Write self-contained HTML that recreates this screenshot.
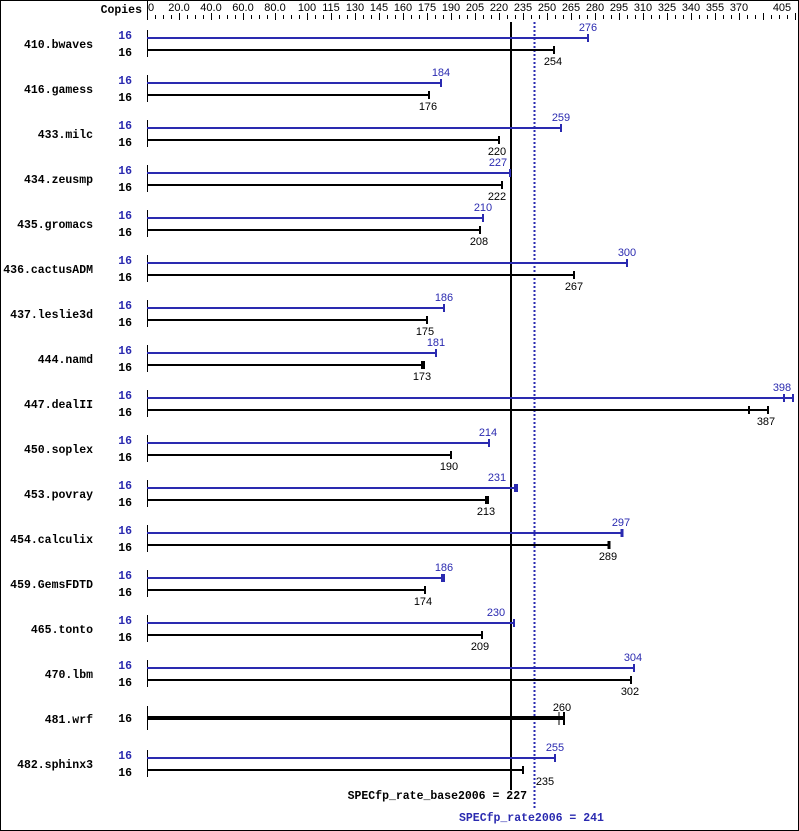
<!DOCTYPE html>
<html><head><meta charset="utf-8"><style>
html,body{margin:0;padding:0;background:#fff}
svg{display:block}
.n{font-family:"Liberation Mono",monospace;font-weight:bold;font-size:11.5px}
.v{font-family:"Liberation Sans",sans-serif;font-size:11px}
</style></head><body>
<svg width="799" height="831" xmlns="http://www.w3.org/2000/svg">
<defs>
<pattern id="tk" x="147" y="0" width="8" height="30" patternUnits="userSpaceOnUse">
<rect x="0" y="15" width="1" height="4" fill="#000"/>
</pattern>
</defs>
<rect x="0.5" y="0.5" width="798" height="830" fill="#fff" stroke="#000"/>
<rect x="147" y="0" width="650" height="30" fill="url(#tk)"/>
<line x1="147.5" y1="0" x2="147.5" y2="20" stroke="#000"/>
<g stroke="#000" stroke-width="1">
<line x1="179.5" y1="13" x2="179.5" y2="20"/><line x1="211.5" y1="13" x2="211.5" y2="20"/>
<line x1="243.5" y1="13" x2="243.5" y2="20"/><line x1="275.5" y1="13" x2="275.5" y2="20"/>
<line x1="307.5" y1="13" x2="307.5" y2="20"/><line x1="331.5" y1="13" x2="331.5" y2="20"/>
<line x1="355.5" y1="13" x2="355.5" y2="20"/><line x1="379.5" y1="13" x2="379.5" y2="20"/>
<line x1="403.5" y1="13" x2="403.5" y2="20"/><line x1="427.5" y1="13" x2="427.5" y2="20"/>
<line x1="451.5" y1="13" x2="451.5" y2="20"/><line x1="475.5" y1="13" x2="475.5" y2="20"/>
<line x1="499.5" y1="13" x2="499.5" y2="20"/><line x1="523.5" y1="13" x2="523.5" y2="20"/>
<line x1="547.5" y1="13" x2="547.5" y2="20"/><line x1="571.5" y1="13" x2="571.5" y2="20"/>
<line x1="595.5" y1="13" x2="595.5" y2="20"/><line x1="619.5" y1="13" x2="619.5" y2="20"/>
<line x1="643.5" y1="13" x2="643.5" y2="20"/><line x1="667.5" y1="13" x2="667.5" y2="20"/>
<line x1="691.5" y1="13" x2="691.5" y2="20"/><line x1="715.5" y1="13" x2="715.5" y2="20"/>
<line x1="739.5" y1="13" x2="739.5" y2="20"/><line x1="763.5" y1="13" x2="763.5" y2="20"/>
<line x1="795.5" y1="13" x2="795.5" y2="20"/>
</g>
<text class="n" x="142" y="13" text-anchor="end">Copies</text>
<g class="v" text-anchor="middle">
<text x="151" y="11">0</text><text x="179" y="11">20.0</text><text x="211" y="11">40.0</text>
<text x="243" y="11">60.0</text><text x="275" y="11">80.0</text><text x="307" y="11">100</text>
<text x="331" y="11">115</text><text x="355" y="11">130</text><text x="379" y="11">145</text>
<text x="403" y="11">160</text><text x="427" y="11">175</text><text x="451" y="11">190</text>
<text x="475" y="11">205</text><text x="499" y="11">220</text><text x="523" y="11">235</text>
<text x="547" y="11">250</text><text x="571" y="11">265</text><text x="595" y="11">280</text>
<text x="619" y="11">295</text><text x="643" y="11">310</text><text x="667" y="11">325</text>
<text x="691" y="11">340</text><text x="715" y="11">355</text><text x="739" y="11">370</text>
<text x="782" y="11">405</text>
</g>

<line x1="511" y1="22" x2="511" y2="790" stroke="#000" stroke-width="2"/>
<line x1="534.5" y1="22" x2="534.5" y2="808" stroke="#2a2ab0" stroke-width="2" stroke-dasharray="2,2"/>

<g id="rows">
<!-- row helper: y0 blue bar; black y0+12 -->
</g>
<g stroke-width="2">
<!-- 0 bwaves y0=38 -->
<line x1="147.5" y1="30" x2="147.5" y2="57" stroke="#000" stroke-width="1"/>
<line x1="147" y1="38" x2="588" y2="38" stroke="#2a2ab0"/><line x1="588" y1="34" x2="588" y2="42" stroke="#2a2ab0"/>
<line x1="147" y1="50" x2="554" y2="50" stroke="#000"/><line x1="554" y1="46" x2="554" y2="54" stroke="#000"/>
<!-- 1 gamess 83 -->
<line x1="147.5" y1="75" x2="147.5" y2="102" stroke="#000" stroke-width="1"/>
<line x1="147" y1="83" x2="441" y2="83" stroke="#2a2ab0"/><line x1="441" y1="79" x2="441" y2="87" stroke="#2a2ab0"/>
<line x1="147" y1="95" x2="429" y2="95" stroke="#000"/><line x1="429" y1="91" x2="429" y2="99" stroke="#000"/>
<!-- 2 milc 128 -->
<line x1="147.5" y1="120" x2="147.5" y2="147" stroke="#000" stroke-width="1"/>
<line x1="147" y1="128" x2="561" y2="128" stroke="#2a2ab0"/><line x1="561" y1="124" x2="561" y2="132" stroke="#2a2ab0"/>
<line x1="147" y1="140" x2="499" y2="140" stroke="#000"/><line x1="499" y1="136" x2="499" y2="144" stroke="#000"/>
<!-- 3 zeusmp 173 -->
<line x1="147.5" y1="165" x2="147.5" y2="192" stroke="#000" stroke-width="1"/>
<line x1="147" y1="173" x2="510" y2="173" stroke="#2a2ab0"/><line x1="510" y1="169" x2="510" y2="177" stroke="#2a2ab0"/>
<line x1="147" y1="185" x2="502" y2="185" stroke="#000"/><line x1="502" y1="181" x2="502" y2="189" stroke="#000"/>
<!-- 4 gromacs 218 -->
<line x1="147.5" y1="210" x2="147.5" y2="237" stroke="#000" stroke-width="1"/>
<line x1="147" y1="218" x2="483" y2="218" stroke="#2a2ab0"/><line x1="483" y1="214" x2="483" y2="222" stroke="#2a2ab0"/>
<line x1="147" y1="230" x2="480" y2="230" stroke="#000"/><line x1="480" y1="226" x2="480" y2="234" stroke="#000"/>
<!-- 5 cactus 263 -->
<line x1="147.5" y1="255" x2="147.5" y2="282" stroke="#000" stroke-width="1"/>
<line x1="147" y1="263" x2="627" y2="263" stroke="#2a2ab0"/><line x1="627" y1="259" x2="627" y2="267" stroke="#2a2ab0"/>
<line x1="147" y1="275" x2="574" y2="275" stroke="#000"/><line x1="574" y1="271" x2="574" y2="279" stroke="#000"/>
<!-- 6 leslie 308 -->
<line x1="147.5" y1="300" x2="147.5" y2="327" stroke="#000" stroke-width="1"/>
<line x1="147" y1="308" x2="444" y2="308" stroke="#2a2ab0"/><line x1="444" y1="304" x2="444" y2="312" stroke="#2a2ab0"/>
<line x1="147" y1="320" x2="427" y2="320" stroke="#000"/><line x1="427" y1="316" x2="427" y2="324" stroke="#000"/>
<!-- 7 namd 353 -->
<line x1="147.5" y1="345" x2="147.5" y2="372" stroke="#000" stroke-width="1"/>
<line x1="147" y1="353" x2="436" y2="353" stroke="#2a2ab0"/><line x1="436" y1="349" x2="436" y2="357" stroke="#2a2ab0"/>
<line x1="147" y1="365" x2="424" y2="365" stroke="#000"/><line x1="424" y1="361" x2="424" y2="369" stroke="#000"/><line x1="422" y1="361" x2="422" y2="369" stroke="#000"/>
<!-- 8 dealII 398 -->
<line x1="147.5" y1="390" x2="147.5" y2="417" stroke="#000" stroke-width="1"/>
<line x1="147" y1="398" x2="793" y2="398" stroke="#2a2ab0"/><line x1="793" y1="394" x2="793" y2="402" stroke="#2a2ab0"/><line x1="784" y1="394" x2="784" y2="402" stroke="#2a2ab0"/>
<line x1="147" y1="410" x2="768" y2="410" stroke="#000"/><line x1="768" y1="406" x2="768" y2="414" stroke="#000"/><line x1="749" y1="406" x2="749" y2="414" stroke="#000"/>
<!-- 9 soplex 443 -->
<line x1="147.5" y1="435" x2="147.5" y2="462" stroke="#000" stroke-width="1"/>
<line x1="147" y1="443" x2="489" y2="443" stroke="#2a2ab0"/><line x1="489" y1="439" x2="489" y2="447" stroke="#2a2ab0"/>
<line x1="147" y1="455" x2="451" y2="455" stroke="#000"/><line x1="451" y1="451" x2="451" y2="459" stroke="#000"/>
<!-- 10 povray 488 -->
<line x1="147.5" y1="480" x2="147.5" y2="507" stroke="#000" stroke-width="1"/>
<line x1="147" y1="488" x2="517" y2="488" stroke="#2a2ab0"/><line x1="517" y1="484" x2="517" y2="492" stroke="#2a2ab0"/><line x1="515" y1="484" x2="515" y2="492" stroke="#2a2ab0"/>
<line x1="147" y1="500" x2="488" y2="500" stroke="#000"/><line x1="488" y1="496" x2="488" y2="504" stroke="#000"/><line x1="486" y1="496" x2="486" y2="504" stroke="#000"/>
<!-- 11 calculix 533 -->
<line x1="147.5" y1="525" x2="147.5" y2="552" stroke="#000" stroke-width="1"/>
<line x1="147" y1="533" x2="622" y2="533" stroke="#2a2ab0"/><line x1="622" y1="529" x2="622" y2="537" stroke="#2a2ab0" stroke-width="3"/>
<line x1="147" y1="545" x2="609" y2="545" stroke="#000"/><line x1="609" y1="541" x2="609" y2="549" stroke="#000" stroke-width="3"/>
<!-- 12 Gems 578 -->
<line x1="147.5" y1="570" x2="147.5" y2="597" stroke="#000" stroke-width="1"/>
<line x1="147" y1="578" x2="444" y2="578" stroke="#2a2ab0"/><line x1="444" y1="574" x2="444" y2="582" stroke="#2a2ab0"/><line x1="442" y1="574" x2="442" y2="582" stroke="#2a2ab0"/>
<line x1="147" y1="590" x2="425" y2="590" stroke="#000"/><line x1="425" y1="586" x2="425" y2="594" stroke="#000"/>
<!-- 13 tonto 623 -->
<line x1="147.5" y1="615" x2="147.5" y2="642" stroke="#000" stroke-width="1"/>
<line x1="147" y1="623" x2="514" y2="623" stroke="#2a2ab0"/><line x1="514" y1="619" x2="514" y2="627" stroke="#2a2ab0"/>
<line x1="147" y1="635" x2="482" y2="635" stroke="#000"/><line x1="482" y1="631" x2="482" y2="639" stroke="#000"/>
<!-- 14 lbm 668 -->
<line x1="147.5" y1="660" x2="147.5" y2="687" stroke="#000" stroke-width="1"/>
<line x1="147" y1="668" x2="634" y2="668" stroke="#2a2ab0"/><line x1="634" y1="664" x2="634" y2="672" stroke="#2a2ab0"/>
<line x1="147" y1="680" x2="631" y2="680" stroke="#000"/><line x1="631" y1="676" x2="631" y2="684" stroke="#000"/>
<!-- 15 wrf 718 -->
<line x1="147.5" y1="706" x2="147.5" y2="730" stroke="#000" stroke-width="1"/>
<line x1="147" y1="718" x2="564" y2="718" stroke="#000" stroke-width="4"/><line x1="564" y1="712" x2="564" y2="725" stroke="#000"/><line x1="559" y1="712" x2="559" y2="725" stroke="#000" stroke-width="1"/>
<!-- 16 sphinx 758 -->
<line x1="147.5" y1="750" x2="147.5" y2="777" stroke="#000" stroke-width="1"/>
<line x1="147" y1="758" x2="555" y2="758" stroke="#2a2ab0"/><line x1="555" y1="754" x2="555" y2="762" stroke="#2a2ab0"/>
<line x1="147" y1="770" x2="523" y2="770" stroke="#000"/><line x1="523" y1="766" x2="523" y2="774" stroke="#000"/>
</g>

<g class="n" text-anchor="end">
<text x="93" y="48">410.bwaves</text><text x="93" y="93">416.gamess</text>
<text x="93" y="138">433.milc</text><text x="93" y="183">434.zeusmp</text>
<text x="93" y="228">435.gromacs</text><text x="93" y="273">436.cactusADM</text>
<text x="93" y="318">437.leslie3d</text><text x="93" y="363">444.namd</text>
<text x="93" y="408">447.dealII</text><text x="93" y="453">450.soplex</text>
<text x="93" y="498">453.povray</text><text x="93" y="543">454.calculix</text>
<text x="93" y="588">459.GemsFDTD</text><text x="93" y="633">465.tonto</text>
<text x="93" y="678">470.lbm</text><text x="93" y="723">481.wrf</text>
<text x="93" y="768">482.sphinx3</text>
</g>
<g class="n" text-anchor="end" fill="#2a2ab0">
<text x="132" y="39">16</text><text x="132" y="84">16</text><text x="132" y="129">16</text>
<text x="132" y="174">16</text><text x="132" y="219">16</text><text x="132" y="264">16</text>
<text x="132" y="309">16</text><text x="132" y="354">16</text><text x="132" y="399">16</text>
<text x="132" y="444">16</text><text x="132" y="489">16</text><text x="132" y="534">16</text>
<text x="132" y="579">16</text><text x="132" y="624">16</text><text x="132" y="669">16</text>
<text x="132" y="759">16</text>
</g>
<g class="n" text-anchor="end">
<text x="132" y="56">16</text><text x="132" y="101">16</text><text x="132" y="146">16</text>
<text x="132" y="191">16</text><text x="132" y="236">16</text><text x="132" y="281">16</text>
<text x="132" y="326">16</text><text x="132" y="371">16</text><text x="132" y="416">16</text>
<text x="132" y="461">16</text><text x="132" y="506">16</text><text x="132" y="551">16</text>
<text x="132" y="596">16</text><text x="132" y="641">16</text><text x="132" y="686">16</text>
<text x="132" y="722">16</text><text x="132" y="776">16</text>
</g>
<g class="v" text-anchor="middle" fill="#2a2ab0">
<text x="588" y="31">276</text><text x="441" y="76">184</text><text x="561" y="121">259</text>
<text x="498" y="166">227</text><text x="483" y="211">210</text><text x="627" y="256">300</text>
<text x="444" y="301">186</text><text x="436" y="346">181</text><text x="782" y="391">398</text>
<text x="488" y="436">214</text><text x="497" y="481">231</text><text x="621" y="526">297</text>
<text x="444" y="571">186</text><text x="496" y="616">230</text><text x="633" y="661">304</text>
<text x="555" y="751">255</text>
</g>
<g class="v" text-anchor="middle">
<text x="553" y="65">254</text><text x="428" y="110">176</text><text x="497" y="155">220</text>
<text x="497" y="200">222</text><text x="479" y="245">208</text><text x="574" y="290">267</text>
<text x="425" y="335">175</text><text x="422" y="380">173</text><text x="766" y="425">387</text>
<text x="449" y="470">190</text><text x="486" y="515">213</text><text x="608" y="560">289</text>
<text x="423" y="605">174</text><text x="480" y="650">209</text><text x="630" y="695">302</text>
<text x="562" y="711">260</text><text x="545" y="785">235</text>
</g>
<text class="n" x="527" y="799" text-anchor="end">SPECfp_rate_base2006 = 227</text>
<text class="n" x="459" y="821" fill="#2a2ab0">SPECfp_rate2006 = 241</text>
</svg>
</body></html>
